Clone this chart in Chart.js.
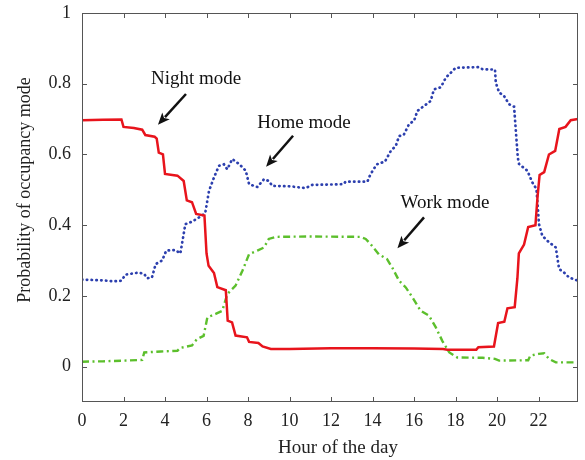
<!DOCTYPE html>
<html>
<head>
<meta charset="utf-8">
<script src="https://cdn.jsdelivr.net/npm/chart.js@4.4.1/dist/chart.umd.min.js"></script>
<style>
  body { margin: 0; background: #fff; }
  #wrap { width: 585px; height: 460px; }
</style>
</head>
<body>
<div id="wrap"><canvas id="occChart" width="585" height="460"></canvas></div>
<script>
const xTicks = [0, 2, 4, 6, 8, 10, 12, 14, 16, 18, 20, 22];
const yTicks = [0, 0.2, 0.4, 0.6, 0.8, 1];

// night mode
const nightHours = [0, 1, 1.9, 2.0, 2.5, 2.9, 3.05, 3.5, 3.6, 3.7, 3.9, 4.0, 4.6, 4.9, 5.05, 5.3, 5.5, 5.9, 6.0, 6.1, 6.36, 6.52, 6.93, 7.02, 7.23, 7.4, 7.95, 8.05, 8.5, 8.7, 9.1, 10, 12, 14, 16, 17.4, 17.6, 19.0, 19.1, 19.85, 19.95, 20.05, 20.35, 20.5, 20.85, 20.98, 21.05, 21.3, 21.5, 21.85, 21.95, 22.05, 22.27, 22.5, 22.8, 23.0, 23.3, 23.55, 23.9];
const nightProb = [0.697, 0.698, 0.699, 0.678, 0.675, 0.670, 0.655, 0.650, 0.645, 0.605, 0.600, 0.545, 0.540, 0.525, 0.470, 0.465, 0.432, 0.427, 0.32, 0.285, 0.265, 0.225, 0.216, 0.13, 0.125, 0.088, 0.083, 0.07, 0.067, 0.057, 0.05, 0.05, 0.052, 0.052, 0.051, 0.050, 0.048, 0.048, 0.055, 0.057, 0.09, 0.123, 0.127, 0.165, 0.168, 0.25, 0.32, 0.345, 0.395, 0.40, 0.48, 0.542, 0.55, 0.600, 0.61, 0.672, 0.678, 0.697, 0.70];

// home mode
const homeHours = [0, 1, 1.5, 1.9, 2.09, 2.73, 3.0, 3.13, 3.37, 3.55, 3.86, 4.06, 4.5, 4.74, 4.98, 5.3, 5.78, 5.94, 6.12, 6.36, 6.6, 6.84, 7.0, 7.24, 7.57, 7.89, 8.05, 8.45, 8.77, 9.0, 9.17, 10.0, 10.78, 11.1, 12.0, 12.6, 12.7, 13.75, 13.9, 14.2, 14.6, 14.88, 15.12, 15.28, 15.5, 15.76, 16.0, 16.16, 16.48, 16.8, 16.96, 17.29, 17.53, 17.77, 18.0, 19.1, 19.3, 19.9, 19.94, 20.1, 20.33, 20.58, 20.82, 21.0, 21.06, 21.46, 21.7, 21.9, 22.02, 22.18, 22.42, 22.83, 22.99, 23.23, 23.47, 23.9];
const homeProb = [0.246, 0.244, 0.241, 0.243, 0.26, 0.266, 0.262, 0.25, 0.252, 0.29, 0.30, 0.328, 0.33, 0.32, 0.403, 0.41, 0.427, 0.435, 0.497, 0.535, 0.568, 0.572, 0.558, 0.587, 0.573, 0.554, 0.516, 0.508, 0.53, 0.525, 0.511, 0.51, 0.505, 0.514, 0.515, 0.516, 0.523, 0.523, 0.544, 0.572, 0.58, 0.61, 0.624, 0.652, 0.655, 0.686, 0.695, 0.723, 0.737, 0.751, 0.784, 0.79, 0.817, 0.831, 0.845, 0.847, 0.841, 0.840, 0.803, 0.775, 0.766, 0.742, 0.735, 0.591, 0.573, 0.554, 0.521, 0.502, 0.403, 0.37, 0.356, 0.337, 0.276, 0.266, 0.252, 0.243];

// work mode
const workHours = [0, 1, 2, 2.9, 3.0, 3.8, 4.6, 4.74, 5.3, 5.54, 5.86, 6.04, 6.44, 6.76, 7.0, 7.4, 7.73, 8.05, 8.45, 8.77, 9.0, 9.33, 11, 13.4, 13.67, 13.9, 14.3, 14.7, 14.95, 15.28, 15.6, 15.92, 16.32, 16.72, 17.05, 17.36, 17.7, 18.08, 19.3, 19.9, 20.1, 21.5, 21.6, 22.0, 22.27, 22.5, 22.83, 23.9];
const workProb = [0.014, 0.015, 0.017, 0.019, 0.04, 0.043, 0.045, 0.053, 0.06, 0.078, 0.087, 0.139, 0.149, 0.158, 0.205, 0.229, 0.271, 0.318, 0.328, 0.337, 0.361, 0.367, 0.368, 0.367, 0.361, 0.347, 0.318, 0.304, 0.28, 0.243, 0.224, 0.196, 0.158, 0.144, 0.111, 0.073, 0.04, 0.026, 0.025, 0.022, 0.017, 0.018, 0.031, 0.036, 0.038, 0.022, 0.012, 0.012];

// labels with arrows, in data units
const notes = [
  { text: 'Night mode', x: 5.5, y: 0.80, from: [5.01, 0.771], to: [3.66, 0.684] },
  { text: 'Home mode', x: 10.7, y: 0.676, from: [10.17, 0.653], to: [8.87, 0.565] },
  { text: 'Work mode', x: 17.49, y: 0.45, from: [16.48, 0.422], to: [15.2, 0.335] }
];

const SERIF = "'Liberation Serif', 'Times New Roman', serif";

const toPoints = (hours, vals) => hours.map((h, i) => ({ x: h, y: vals[i] }));

const frame = {
  id: 'frame',
  afterDraw(chart) {
    const { ctx, chartArea: a, scales: { x, y } } = chart;
    ctx.save();
    ctx.strokeStyle = '#555';
    ctx.lineWidth = 1;
    ctx.strokeRect(a.left + 0.5, a.top + 0.5, a.width - 1, a.height - 1);
    ctx.beginPath();
    x.ticks.forEach(t => {
      const px = Math.round(x.getPixelForValue(t.value)) + 0.5;
      ctx.moveTo(px, a.bottom); ctx.lineTo(px, a.bottom - 5);
      ctx.moveTo(px, a.top); ctx.lineTo(px, a.top + 5);
    });
    y.ticks.forEach(t => {
      const py = Math.round(y.getPixelForValue(t.value)) + 0.5;
      ctx.moveTo(a.left, py); ctx.lineTo(a.left + 5, py);
      ctx.moveTo(a.right, py); ctx.lineTo(a.right - 5, py);
    });
    ctx.stroke();

    // annotations
    ctx.fillStyle = '#111';
    ctx.strokeStyle = '#111';
    ctx.font = '19px ' + SERIF;
    ctx.textAlign = 'center';
    ctx.textBaseline = 'alphabetic';
    notes.forEach(n => {
      ctx.fillText(n.text, x.getPixelForValue(n.x), y.getPixelForValue(n.y));
      const x1 = x.getPixelForValue(n.from[0]), y1 = y.getPixelForValue(n.from[1]);
      const x2 = x.getPixelForValue(n.to[0]), y2 = y.getPixelForValue(n.to[1]);
      const ang = Math.atan2(y2 - y1, x2 - x1);
      const head = 13;
      ctx.lineWidth = 2.5;
      ctx.beginPath();
      ctx.moveTo(x1, y1);
      ctx.lineTo(x2 - Math.cos(ang) * head * 0.8, y2 - Math.sin(ang) * head * 0.8);
      ctx.stroke();
      ctx.beginPath();
      ctx.moveTo(x2, y2);
      ctx.lineTo(x2 - head * Math.cos(ang - 0.4), y2 - head * Math.sin(ang - 0.4));
      ctx.lineTo(x2 - head * 0.7 * Math.cos(ang), y2 - head * 0.7 * Math.sin(ang));
      ctx.lineTo(x2 - head * Math.cos(ang + 0.4), y2 - head * Math.sin(ang + 0.4));
      ctx.closePath();
      ctx.fill();
    });

    // axis titles
    ctx.fillStyle = '#222';
    ctx.textBaseline = 'middle';
    ctx.font = '19px ' + SERIF;
    ctx.fillText('Hour of the day', 338, 448);
    ctx.translate(25, 190);
    ctx.rotate(-Math.PI / 2);
    ctx.font = '18px ' + SERIF;
    ctx.fillText('Probability of occupancy mode', 0, 0);
    ctx.restore();
  }
};

const tickFont = { family: SERIF, size: 18 };

new Chart(document.getElementById('occChart'), {
  type: 'line',
  data: {
    datasets: [
      {
        label: 'Night mode',
        data: toPoints(nightHours, nightProb),
        borderColor: '#e8141c',
        borderWidth: 2.5,
        pointRadius: 0,
        tension: 0
      },
      {
        label: 'Home mode',
        data: toPoints(homeHours, homeProb),
        borderColor: '#2c3fae',
        borderWidth: 2.7,
        borderDash: [0.4, 4.4],
        borderCapStyle: 'round',
        pointRadius: 0,
        tension: 0
      },
      {
        label: 'Work mode',
        data: toPoints(workHours, workProb),
        borderColor: '#5cbf2c',
        borderWidth: 2.4,
        borderDash: [7, 3.5, 2, 3.5],
        pointRadius: 0,
        tension: 0
      }
    ]
  },
  options: {
    responsive: false,
    animation: false,
    devicePixelRatio: 1,
    layout: { padding: { top: 13, right: 7, left: 0, bottom: 0 } },
    plugins: {
      legend: { display: false },
      tooltip: { enabled: false }
    },
    scales: {
      x: {
        type: 'linear',
        min: 0,
        max: 23.9,
        afterBuildTicks: s => { s.ticks = xTicks.map(v => ({ value: v })); },
        afterFit: s => { s.height = 58; s.paddingLeft = 0; s.paddingRight = 0; },
        grid: { display: false },
        border: { display: false },
        ticks: { font: tickFont, color: '#222', padding: 0, maxRotation: 0, autoSkip: false }
      },
      y: {
        type: 'linear',
        min: -0.1,
        max: 1,
        afterBuildTicks: s => { s.ticks = yTicks.map(v => ({ value: v })); },
        afterFit: s => { s.width = 82; s.paddingTop = 0; s.paddingBottom = 0; },
        grid: { display: false },
        border: { display: false },
        ticks: { font: tickFont, color: '#222', padding: 3, callback: v => String(v) }
      }
    }
  },
  plugins: [frame]
});
</script>
</body>
</html>
